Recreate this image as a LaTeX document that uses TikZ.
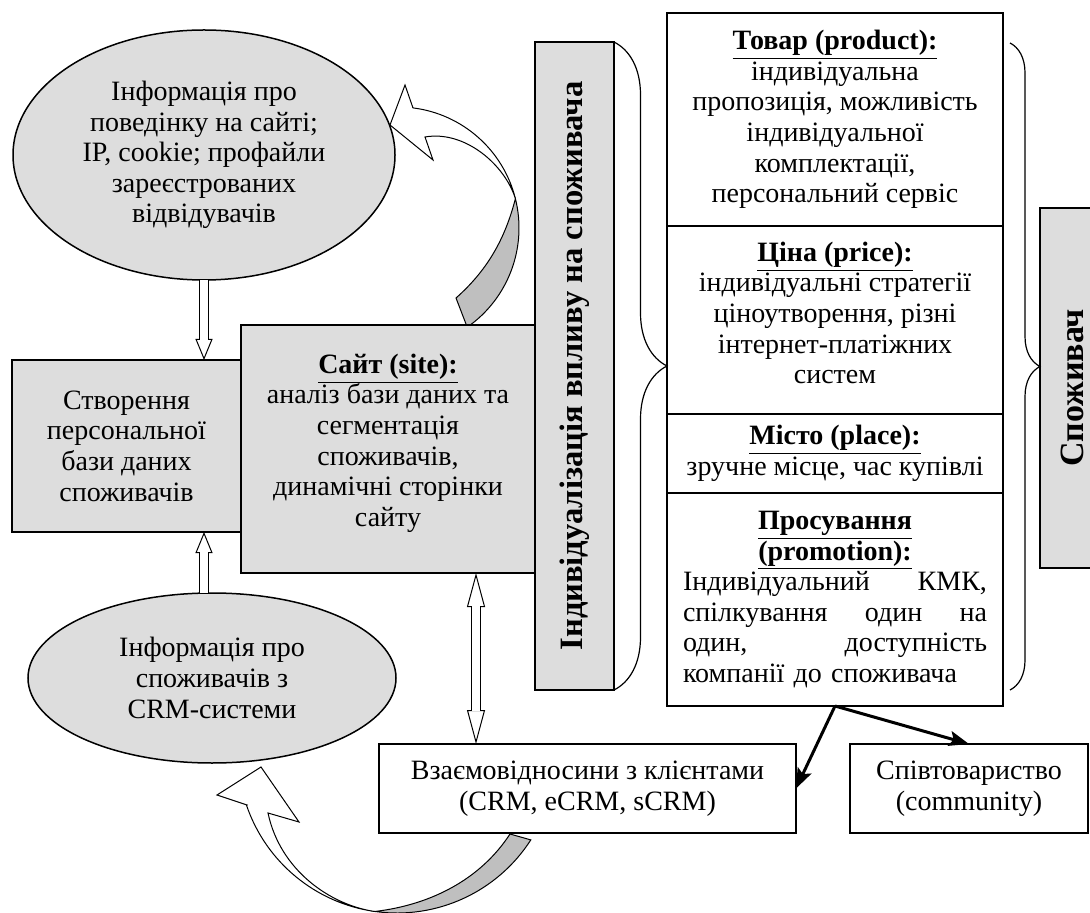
\documentclass[tikz,border=0pt]{standalone}
\usepackage{fontspec}
\setmainfont{Liberation Serif}
\usetikzlibrary{shapes,arrows.meta,positioning,calc,decorations.pathreplacing}

\definecolor{boxgray}{RGB}{221,221,221}
\definecolor{backgray}{RGB}{191,191,191}
\newcommand{\boxtitle}[1]{\underline{\textbf{#1}}}

\tikzset{
  txt/.style={font=\fontsize{14}{15.3}\selectfont, align=center, inner sep=0pt, outer sep=0pt},
  graybox/.style={txt, draw, line width=0.75pt, fill=boxgray},
  whitebox/.style={txt, draw, line width=0.75pt, fill=white},
  infoellipse/.style={txt, ellipse, draw, line width=0.75pt, fill=boxgray},
  vband/.style={draw, line width=0.75pt, fill=boxgray, rotate=90, inner sep=0pt, outer sep=0pt},
  blockarrow/.style={line width=0.5pt, -{Triangle[fill=white,length=10.5pt,width=8.5pt]},
    postaction={draw, -, double=white, double distance=3.75pt, shorten >=10pt}},
  dblockarrow/.style={line width=0.5pt,
    {Triangle[fill=white,length=17pt,width=9pt]}-{Triangle[fill=white,length=17pt,width=9pt]},
    postaction={draw, -, double=white, double distance=3.75pt, shorten >=16.5pt, shorten <=16.5pt}},
  thinarrow/.style={line width=1.5pt, -{Stealth[length=10pt,width=7.5pt,inset=2pt]}},
  ribbon/.style={line width=0.5pt, draw=black},
  bigbrace/.style={decorate, line width=0.6pt}
}

\begin{document}
\begin{tikzpicture}[x=0.5pt,y=-0.5pt]
\useasboundingbox (0,0) rectangle (1090,913);

% information sources
\node[infoellipse, minimum width=191pt, minimum height=125pt] (info1) at (204,155)
  {Інформація про\\поведінку на сайті;\\IP, cookie; профайли\\зареєстрованих\\відвідувачів};
\node[infoellipse, minimum width=184pt, minimum height=85pt] (info2) at (212,678)
  {Інформація про\\споживачів з\\CRM-системи};

% curved arrows
\filldraw[ribbon, fill=backgray] (456,298) .. controls (490,268) and (506,235) .. (515.4,198.7)
  arc[start angle=-14, end angle=55.1, radius=121] -- cycle;
\filldraw[ribbon, fill=white] (413,108) -- (405,85) -- (390,125) -- (433,160) -- (425,137)
  .. controls (465,130) and (505,165) .. (515.4,198.7)
  arc[start angle=-14, end angle=-82.9, radius=121] -- cycle;
\filldraw[ribbon, fill=backgray] (530.8,839.9) arc[start angle=32.7, end angle=98, radius=159]
  .. controls (430,905) and (480,880) .. (510,834) -- cycle;
\filldraw[ribbon, fill=white] (247,805) -- (217,795) -- (261,767) -- (299,822) -- (268,813)
  .. controls (280,870) and (330,905) .. (374.9,911.5)
  arc[start angle=98, end angle=161.2, radius=159] -- cycle;

% database and site
\node[graybox, minimum width=114.5pt, minimum height=86pt] (create) at (126.5,446)
  {Створення\\персональної\\бази даних\\споживачів};
\node[graybox, minimum width=147pt, minimum height=124pt] (site) at (388,449)
  {\boxtitle{Сайт (site):}\\аналіз бази даних та\\сегментація\\споживачів,\\динамічні сторінки\\сайту\\[-6.3pt]};

% individualization
\node[vband, minimum width=324pt, minimum height=39.5pt,
  font=\fontsize{16.3}{18}\selectfont\bfseries] (indiv) at (574.5,366)
  {Індивідуалізація впливу на споживача};

% marketing mix
\node[whitebox, minimum width=168pt, minimum height=106.5pt] (product) at (835,119.5)
  {\boxtitle{Товар (product):}\\індивідуальна\\пропозиція, можливість\\індивідуальної\\комплектації,\\персональний сервіс};
\node[whitebox, minimum width=168pt, minimum height=94pt, below=0pt of product] (price)
  {\boxtitle{Ціна (price):}\\індивідуальні стратегії\\ціноутворення, різні\\інтернет-платіжних\\систем\\[-8pt]};
\node[whitebox, minimum width=168pt, minimum height=39.5pt, below=0pt of price] (place)
  {\boxtitle{Місто (place):}\\зручне місце, час купівлі};
\node[whitebox, minimum width=168pt, minimum height=106.5pt, text width=152pt, below=0pt of place] (promo)
  {\boxtitle{Просування}\\\boxtitle{(promotion):}\\
   \makebox[\linewidth]{Індивідуальний\hfill КМК,}\\
   \makebox[\linewidth]{спілкування\hfill один\hfill на}\\
   \makebox[\linewidth]{один,\hfill доступність}\\
   \makebox[\linewidth][l]{компанії до споживача}};

\node[vband, minimum width=180pt, minimum height=32pt,
  font=\fontsize{17}{19}\selectfont\bfseries] (cons) at (1072,388) {Споживач};

% relations
\node[whitebox, minimum width=208.5pt, minimum height=44.5pt] (crm) at (587.5,788.5)
  {Взаємовідносини з клієнтами\\(CRM, eCRM, sCRM)};
\node[whitebox, minimum width=119pt, minimum height=44.5pt] (comm) at (969,788.5)
  {Співтовариство\\(community)};

% braces
\draw[bigbrace, decoration={brace, amplitude=26.5pt}] (614,42) -- (614,690);
\draw[bigbrace, decoration={brace, amplitude=15pt}] (1010,43) -- (1010,690);

% block arrows
\draw[blockarrow] (info1.south) -- (info1.south |- create.north);
\draw[blockarrow] (info2.north -| info1.south) -- (create.south -| info1.south);
\draw[dblockarrow] ([xshift=44pt]site.south) -- ([xshift=44pt]site.south |- crm.north);

% promotion channels
\draw[thinarrow] (promo.south) -- (crm.east);
\draw[thinarrow] (promo.south) -- (comm.north);
\end{tikzpicture}
\end{document}
